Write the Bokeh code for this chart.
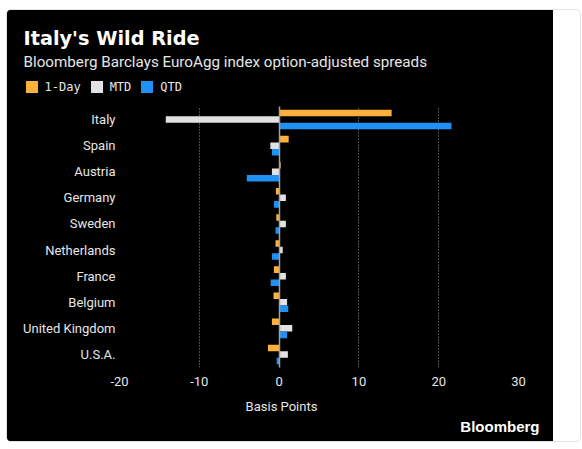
from bokeh.plotting import figure
from bokeh.models import (FactorRange, Range1d, ColumnDataSource, Grid, Label,
                          Legend, LegendItem, FixedTicker, Spacer)
from bokeh.layouts import column, row
from bokeh.transform import dodge
from bokeh.embed import file_html
from bokeh.resources import INLINE

# ---- data ----
countries = ["Italy", "Spain", "Austria", "Germany", "Sweden", "Netherlands",
             "France", "Belgium", "United Kingdom", "U.S.A."]
one_day = [14.1, 1.2, 0.2, -0.4, -0.35, -0.45, -0.65, -0.7, -0.9, -1.4]
mtd = [-14.2, -1.1, -0.9, 0.85, 0.85, 0.45, 0.85, 1.0, 1.65, 1.1]
qtd = [21.6, -0.9, -4.05, -0.65, -0.45, -0.9, -1.05, 1.15, 1.0, -0.3]
x_ticks = [-20, -10, 0, 10, 20, 30]
x_tick_labels = ["-20", "-10", "0", "10", "20", "30"]
grid_ticks = [-10, 10, 20, 30]
series_names = ["1-Day", "MTD", "QTD"]

ORANGE = "#FBB13C"
LIGHT = "#E2E2E2"
BLUE = "#1F91F5"
TEXT = "#E6E6E6"
SANS = "Roboto"
W = 546
HEAD_H, MAIN_H, FOOT_H = 92, 288, 51


def blank(h):
    f = figure(width=W, height=h, x_range=Range1d(0, W), y_range=Range1d(0, h),
               x_axis_type=None, y_axis_type=None,
               output_backend="svg", toolbar_location=None,
               background_fill_color="black", border_fill_color="black",
               outline_line_color=None, min_border=0, frame_align=False)
    f.grid.visible = False
    return f


# ---- header: title, subtitle, legend ----
head = blank(HEAD_H)
head.add_layout(Label(x=16, y=HEAD_H - 28.2, text="Italy's Wild Ride",
                      text_font="DejaVu Sans", text_font_style="bold",
                      text_font_size="19.3px", text_color="white",
                      text_baseline="middle"))
head.add_layout(Label(x=16, y=HEAD_H - 51.2,
                      text="Bloomberg Barclays EuroAgg index option-adjusted spreads",
                      text_font=SANS, text_font_size="15.2px", text_color=TEXT,
                      text_baseline="middle"))
colors = [ORANGE, LIGHT, BLUE]
key_src = ColumnDataSource(dict(y=[float("nan")], right=[0.0]))
keys = [head.hbar(y="y", right="right", left=0, height=1, source=key_src,
                  fill_color=c, line_color=None)
        for c in colors]
legend = Legend(items=[LegendItem(label=n, renderers=[k]) for n, k in zip(series_names, keys)],
                orientation="horizontal", location=(16.5, 8),
                background_fill_alpha=0, border_line_color=None,
                padding=0, margin=0, spacing=8, label_standoff=6,
                glyph_width=15, glyph_height=15, label_height=12,
                label_text_font="DejaVu Sans Mono", label_text_font_size="12px",
                label_text_color=TEXT, label_text_baseline="middle")
head.add_layout(legend, "center")

# ---- main chart ----
source = ColumnDataSource(dict(country=countries, one_day=one_day, mtd=mtd, qtd=qtd))
p = figure(width=W, height=MAIN_H,
           x_range=Range1d(-20, 30),
           y_range=FactorRange(factors=list(reversed(countries))),
           output_backend="svg", toolbar_location=None,
           background_fill_color="black", border_fill_color="black",
           outline_line_color=None, frame_align=False,
           min_border_left=112, min_border_right=35,
           min_border_top=4, min_border_bottom=23)

bh = 0.25
p.hbar(y=dodge("country", 0.25, range=p.y_range), right="one_day", left=0,
       height=bh, source=source, color=ORANGE, line_color=None)
p.hbar(y=dodge("country", 0.0, range=p.y_range), right="mtd", left=0,
       height=bh, source=source, color=LIGHT, line_color=None)
p.hbar(y=dodge("country", -0.25, range=p.y_range), right="qtd", left=0,
       height=bh, source=source, color=BLUE, line_color=None)

p.ygrid.grid_line_color = None
p.xgrid.ticker = FixedTicker(ticks=grid_ticks)
p.xgrid.grid_line_color = "#9A9A9A"
p.xgrid.grid_line_dash = "1 2"
p.xgrid.grid_line_width = 1
# zero line
p.add_layout(Grid(dimension=0, ticker=FixedTicker(ticks=[0]),
                  grid_line_color="#A0A0A0", grid_line_width=1.5, level="annotation"))

p.xaxis.ticker = FixedTicker(ticks=x_ticks)
p.xaxis.major_label_overrides = dict(zip(x_ticks, x_tick_labels))
for ax in (p.xaxis, p.yaxis):
    ax.axis_line_color = None
    ax.major_tick_line_color = None
    ax.minor_tick_line_color = None
    ax.major_tick_out = 0
    ax.major_tick_in = 0
    ax.major_label_text_font = SANS
    ax.major_label_text_font_size = "13px"
    ax.major_label_text_color = TEXT
p.xaxis.major_label_standoff = 9
p.yaxis.major_label_standoff = 4

# ---- footer: axis title and logo ----
foot = blank(FOOT_H)
foot.add_layout(Label(x=274, y=FOOT_H - 15.7, text="Basis Points",
                      text_font=SANS, text_font_size="13px", text_color=TEXT,
                      text_align="center", text_baseline="middle"))
foot.add_layout(Label(x=532, y=FOOT_H - 36, text="Bloomberg",
                      text_font="Liberation Sans", text_font_style="bold",
                      text_font_size="15px", text_color="white",
                      text_align="right", text_baseline="middle"))

inner = column(head, p, foot, styles={"background-color": "black"})
card = column(inner,
              styles={"border": "1px solid #E2E2E2", "border-radius": "5px",
                      "box-sizing": "border-box", "width": "575px", "height": "433px",
                      "overflow": "hidden", "background-color": "white"})
page = row(Spacer(width=6), column(Spacer(height=9), card))

open("out.html", "w").write(file_html(page, INLINE))
